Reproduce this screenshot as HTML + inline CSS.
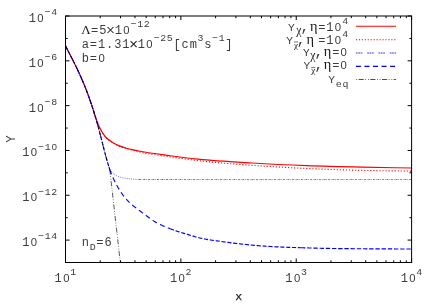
<!DOCTYPE html>
<html><head><meta charset="utf-8"><title>plot</title>
<style>
html,body{margin:0;padding:0;background:#fff;}
body{width:436px;height:305px;overflow:hidden;position:relative;font-family:"Liberation Mono",monospace;}
</style></head><body>
<svg width="436" height="305" viewBox="0 0 436 305" style="position:absolute;left:0;top:0;will-change:transform">
<rect x="0" y="0" width="436" height="305" fill="#fff"/>
<path d="M65.50,262.50 V258.50 M65.50,16.00 V20.00 M100.23,262.50 V260.30 M100.23,16.00 V18.20 M120.54,262.50 V260.30 M120.54,16.00 V18.20 M134.96,262.50 V260.30 M134.96,16.00 V18.20 M146.14,262.50 V260.30 M146.14,16.00 V18.20 M155.27,262.50 V260.30 M155.27,16.00 V18.20 M163.00,262.50 V260.30 M163.00,16.00 V18.20 M169.69,262.50 V260.30 M169.69,16.00 V18.20 M175.59,262.50 V260.30 M175.59,16.00 V18.20 M180.87,262.50 V258.50 M180.87,16.00 V20.00 M215.60,262.50 V260.30 M215.60,16.00 V18.20 M235.91,262.50 V260.30 M235.91,16.00 V18.20 M250.32,262.50 V260.30 M250.32,16.00 V18.20 M261.50,262.50 V260.30 M261.50,16.00 V18.20 M270.64,262.50 V260.30 M270.64,16.00 V18.20 M278.36,262.50 V260.30 M278.36,16.00 V18.20 M285.05,262.50 V260.30 M285.05,16.00 V18.20 M290.95,262.50 V260.30 M290.95,16.00 V18.20 M296.23,262.50 V258.50 M296.23,16.00 V20.00 M330.96,262.50 V260.30 M330.96,16.00 V18.20 M351.28,262.50 V260.30 M351.28,16.00 V18.20 M365.69,262.50 V260.30 M365.69,16.00 V18.20 M376.87,262.50 V260.30 M376.87,16.00 V18.20 M386.01,262.50 V260.30 M386.01,16.00 V18.20 M393.73,262.50 V260.30 M393.73,16.00 V18.20 M400.42,262.50 V260.30 M400.42,16.00 V18.20 M406.32,262.50 V260.30 M406.32,16.00 V18.20 M411.60,262.50 V258.50 M411.60,16.00 V20.00 M65.50,16.00 H69.50 M411.60,16.00 H407.60 M65.50,38.41 H67.70 M411.60,38.41 H409.40 M65.50,60.82 H69.50 M411.60,60.82 H407.60 M65.50,83.23 H67.70 M411.60,83.23 H409.40 M65.50,105.64 H69.50 M411.60,105.64 H407.60 M65.50,128.05 H67.70 M411.60,128.05 H409.40 M65.50,150.45 H69.50 M411.60,150.45 H407.60 M65.50,172.86 H67.70 M411.60,172.86 H409.40 M65.50,195.27 H69.50 M411.60,195.27 H407.60 M65.50,217.68 H67.70 M411.60,217.68 H409.40 M65.50,240.09 H69.50 M411.60,240.09 H407.60 M65.50,262.50 H67.70 M411.60,262.50 H409.40" stroke="#000" stroke-width="1" fill="none"/>
<g fill="none" stroke-linejoin="round">
<path d="M65.59,46.00 C66.61,48.00 67.63,50.00 68.65,52.00 C69.68,54.00 70.71,56.00 71.73,58.00 C72.74,60.00 73.76,61.99 74.76,64.00 C75.75,65.99 76.73,67.99 77.68,70.00 C78.62,71.99 79.54,73.99 80.44,76.00 C81.33,77.99 82.22,79.99 83.06,82.00 C83.90,83.99 84.71,85.99 85.50,88.00 C86.29,89.99 87.04,91.99 87.78,94.00 C88.52,95.99 89.23,97.99 89.93,100.00 C90.63,101.99 91.31,103.99 91.97,106.00 C92.63,107.99 93.28,109.99 93.89,112.00 C94.20,113.00 94.48,114.01 94.80,115.00 C95.38,116.82 96.03,118.61 96.70,120.40 C97.28,121.94 97.86,123.48 98.50,125.00 C99.01,126.21 99.51,127.43 100.10,128.60 C101.59,131.59 103.34,134.59 105.60,137.00 C107.57,139.10 110.04,140.85 112.50,142.40 C114.67,143.76 117.02,144.91 119.40,145.90 C121.63,146.83 123.97,147.52 126.30,148.20 C128.54,148.85 130.82,149.38 133.10,149.90 C135.39,150.42 137.70,150.86 140.00,151.30 C149.92,153.21 159.98,154.36 170.00,155.70 C179.32,156.94 188.65,158.12 198.00,159.10 C215.94,160.98 233.99,161.92 252.00,163.00 C270.32,164.10 288.66,164.92 307.00,165.60 C325.33,166.28 343.66,166.69 362.00,167.10 C378.50,167.47 395.00,167.70 411.50,168.00" stroke="#f00" stroke-width="1.15"/>
<path d="M65.59,46.00 C66.61,48.00 67.63,50.00 68.65,52.00 C69.68,54.00 70.71,56.00 71.73,58.00 C72.74,60.00 73.76,61.99 74.76,64.00 C75.75,65.99 76.73,67.99 77.68,70.00 C78.62,71.99 79.54,73.99 80.44,76.00 C81.33,77.99 82.22,79.99 83.06,82.00 C83.90,83.99 84.71,85.99 85.50,88.00 C86.29,89.99 87.04,91.99 87.78,94.00 C88.52,95.99 89.23,97.99 89.93,100.00 C90.63,101.99 91.31,103.99 91.97,106.00 C92.63,107.99 93.28,109.99 93.89,112.00 C94.20,113.00 94.48,114.01 94.80,115.00 C95.38,116.82 96.03,118.61 96.70,120.40 C97.28,121.94 97.86,123.48 98.50,125.00 C99.01,126.21 99.52,127.43 100.10,128.60 C101.60,131.61 103.34,134.66 105.60,137.10 C107.57,139.23 110.04,141.02 112.50,142.60 C114.67,144.00 117.02,145.18 119.40,146.20 C121.63,147.16 123.97,147.89 126.30,148.60 C128.54,149.28 130.82,149.84 133.10,150.40 C135.39,150.97 137.69,151.50 140.00,152.00 C149.89,154.16 159.98,155.32 170.00,156.80 C179.32,158.17 188.65,159.49 198.00,160.60 C215.94,162.73 233.98,163.99 252.00,165.30 C270.31,166.63 288.66,167.65 307.00,168.50 C325.32,169.35 343.66,169.96 362.00,170.40 C378.50,170.79 395.00,170.87 411.50,171.10" stroke="#f00" stroke-width="1.1" stroke-dasharray="1.15 1.9"/>
<path d="M109.77,169.50 L110.62,170.59 L111.60,171.60 L112.35,172.36 L113.12,173.12 L113.92,173.84 L114.75,174.52 L115.61,175.15 L116.50,175.70 L117.51,176.20 L118.56,176.61 L119.65,176.96 L120.77,177.26 L121.89,177.54 L123.00,177.80 L124.01,178.03 L125.02,178.22 L126.05,178.39 L127.07,178.54 L128.10,178.67 L129.14,178.79 L130.17,178.90 L131.20,179.00 L132.30,179.10 L133.39,179.18 L134.49,179.24 L135.59,179.29 L136.70,179.34 L137.80,179.38 L138.90,179.41" stroke="#00f" stroke-width="0.85" stroke-dasharray="1 1.2" opacity="0.7"/>
<path d="M138.90,179.41 L140.00,179.45 L141.00,179.48 L142.00,179.51 L143.00,179.53 L144.00,179.55 L145.00,179.56 L146.00,179.56 L147.00,179.57 L148.00,179.57 L149.00,179.56 L150.00,179.56 L151.00,179.55 L152.00,179.55 L153.00,179.54 L154.00,179.53 L155.00,179.52 L156.00,179.51 L157.00,179.51 L158.00,179.50 L159.00,179.50 L160.00,179.50 L161.00,179.50 L162.00,179.50 L163.01,179.51 L164.01,179.51 L165.01,179.51 L166.01,179.51 L167.01,179.52 L168.02,179.52 L169.02,179.52 L170.02,179.52 L171.02,179.52 L172.02,179.53 L173.03,179.53 L174.03,179.53 L175.03,179.53 L176.03,179.53 L177.03,179.53 L178.04,179.54 L179.04,179.54 L180.04,179.54 L181.04,179.54 L182.04,179.54 L183.05,179.54 L184.05,179.55 L185.05,179.55 L186.05,179.55 L187.05,179.55 L188.06,179.55 L189.06,179.55 L190.06,179.55 L191.06,179.56 L192.06,179.56 L193.07,179.56 L194.07,179.56 L195.07,179.56 L196.07,179.56 L197.07,179.56 L198.08,179.56 L199.08,179.56 L200.08,179.57 L201.08,179.57 L202.08,179.57 L203.09,179.57 L204.09,179.57 L205.09,179.57 L206.09,179.57 L207.09,179.57 L208.10,179.57 L209.10,179.57 L210.10,179.57 L211.10,179.58 L212.10,179.58 L213.11,179.58 L214.11,179.58 L215.11,179.58 L216.11,179.58 L217.11,179.58 L218.12,179.58 L219.12,179.58 L220.12,179.58 L221.12,179.58 L222.12,179.58 L223.13,179.58 L224.13,179.58 L225.13,179.58 L226.13,179.58 L227.13,179.58 L228.14,179.58 L229.14,179.58 L230.14,179.58 L231.14,179.58 L232.14,179.58 L233.15,179.59 L234.15,179.59 L235.15,179.59 L236.15,179.59 L237.15,179.59 L238.16,179.59 L239.16,179.59 L240.16,179.59 L241.16,179.59 L242.16,179.59 L243.17,179.59 L244.17,179.59 L245.17,179.59 L246.17,179.59 L247.17,179.59 L248.18,179.59 L249.18,179.59 L250.18,179.59 L251.18,179.59 L252.18,179.59 L253.19,179.59 L254.19,179.59 L255.19,179.59 L256.19,179.58 L257.19,179.58 L258.20,179.58 L259.20,179.58 L260.20,179.58 L261.20,179.58 L262.20,179.58 L263.21,179.58 L264.21,179.58 L265.21,179.58 L266.21,179.58 L267.21,179.58 L268.22,179.58 L269.22,179.58 L270.22,179.58 L271.22,179.58 L272.22,179.58 L273.23,179.58 L274.23,179.58 L275.23,179.58 L276.23,179.58 L277.23,179.58 L278.23,179.58 L279.24,179.58 L280.24,179.58 L281.24,179.58 L282.24,179.57 L283.24,179.57 L284.25,179.57 L285.25,179.57 L286.25,179.57 L287.25,179.57 L288.25,179.57 L289.26,179.57 L290.26,179.57 L291.26,179.57 L292.26,179.57 L293.26,179.57 L294.27,179.57 L295.27,179.57 L296.27,179.57 L297.27,179.57 L298.27,179.56 L299.28,179.56 L300.28,179.56 L301.28,179.56 L302.28,179.56 L303.28,179.56 L304.29,179.56 L305.29,179.56 L306.29,179.56 L307.29,179.56 L308.29,179.56 L309.30,179.56 L310.30,179.56 L311.30,179.56 L312.30,179.55 L313.30,179.55 L314.31,179.55 L315.31,179.55 L316.31,179.55 L317.31,179.55 L318.31,179.55 L319.32,179.55 L320.32,179.55 L321.32,179.55 L322.32,179.55 L323.32,179.55 L324.33,179.55 L325.33,179.54 L326.33,179.54 L327.33,179.54 L328.33,179.54 L329.34,179.54 L330.34,179.54 L331.34,179.54 L332.34,179.54 L333.34,179.54 L334.35,179.54 L335.35,179.54 L336.35,179.54 L337.35,179.54 L338.35,179.53 L339.36,179.53 L340.36,179.53 L341.36,179.53 L342.36,179.53 L343.36,179.53 L344.37,179.53 L345.37,179.53 L346.37,179.53 L347.37,179.53 L348.37,179.53 L349.38,179.53 L350.38,179.53 L351.38,179.53 L352.38,179.52 L353.38,179.52 L354.39,179.52 L355.39,179.52 L356.39,179.52 L357.39,179.52 L358.39,179.52 L359.40,179.52 L360.40,179.52 L361.40,179.52 L362.40,179.52 L363.40,179.52 L364.41,179.52 L365.41,179.52 L366.41,179.52 L367.41,179.51 L368.41,179.51 L369.42,179.51 L370.42,179.51 L371.42,179.51 L372.42,179.51 L373.42,179.51 L374.43,179.51 L375.43,179.51 L376.43,179.51 L377.43,179.51 L378.43,179.51 L379.44,179.51 L380.44,179.51 L381.44,179.51 L382.44,179.51 L383.44,179.51 L384.45,179.51 L385.45,179.51 L386.45,179.51 L387.45,179.50 L388.45,179.50 L389.46,179.50 L390.46,179.50 L391.46,179.50 L392.46,179.50 L393.46,179.50 L394.47,179.50 L395.47,179.50 L396.47,179.50 L397.47,179.50 L398.47,179.50 L399.48,179.50 L400.48,179.50 L401.48,179.50 L402.48,179.50 L403.48,179.50 L404.49,179.50 L405.49,179.50 L406.49,179.50 L407.49,179.50 L408.49,179.50 L409.50,179.50 L410.50,179.50 L411.50,179.50" stroke="#00f" stroke-width="0.85" stroke-dasharray="2.0 1.0 0.6 0.9" opacity="0.75"/>
<path d="M65.59,46.00 L66.10,47.00 L66.61,48.00 L67.12,49.00 L67.63,50.00 L68.14,51.00 L68.65,52.00 L69.17,53.00 L69.68,54.00 L70.19,55.00 L70.71,56.00 L71.22,57.00 L71.73,58.00 L72.24,59.00 L72.74,60.00 L73.25,61.00 L73.76,62.00 L74.26,63.00 L74.76,64.00 L75.25,65.00 L75.74,65.99 L76.23,66.99 L76.72,67.99 L77.20,69.00 L77.68,70.00 L78.15,71.00 L78.61,71.99 L79.08,72.99 L79.53,73.99 L79.99,75.00 L80.44,76.00 L80.89,77.00 L81.33,77.99 L81.77,78.99 L82.21,79.99 L82.64,81.00 L83.06,82.00 L83.48,83.00 L83.89,83.99 L84.30,84.99 L84.71,85.99 L85.11,87.00 L85.50,88.00 L85.89,89.00 L86.28,89.99 L86.66,90.99 L87.04,91.99 L87.41,93.00 L87.78,94.00 L88.15,95.00 L88.51,96.00 L88.87,97.00 L89.23,98.00 L89.58,99.00 L89.93,100.00 L90.28,101.00 L90.62,102.00 L90.96,103.00 L91.30,104.00 L91.64,105.00 L91.97,106.00 L92.30,107.00 L92.62,108.00 L92.94,109.00 L93.26,110.00 L93.58,111.00 L93.89,112.00 L94.20,113.00 L94.51,114.00 L94.81,115.00 L95.12,116.00 L95.41,117.00 L95.71,118.00 L96.00,119.00 L96.29,120.00 L96.58,121.00 L96.86,122.00 L97.15,123.00 L97.43,124.00 L97.70,125.00 L97.98,126.00 L98.25,127.00 L98.52,128.00 L98.79,129.00 L99.05,130.00 L99.32,131.00 L99.58,132.00 L99.84,133.00 L100.10,134.00 L100.36,135.00 L100.62,136.00 L100.87,137.00 L101.13,138.00 L101.38,139.00 L101.63,140.00 L101.89,141.00 L102.14,142.00 L102.40,143.00 L102.65,144.00 L102.90,145.00 L103.15,146.00 L103.41,147.00 L103.67,148.00 L103.92,149.00 L104.18,150.00 L104.44,151.00 L104.70,152.00 L104.96,153.00 L105.23,154.00 L105.50,155.00 L105.77,156.00 L106.04,157.00 L106.31,158.00 L106.59,159.00 L106.87,160.00 L107.16,161.00 L107.45,162.00 L107.74,163.01 L108.04,164.01 L108.34,165.00 L108.65,166.00 L109.01,167.17 L109.38,168.34 L109.77,169.50" stroke="#00f" stroke-width="1.15" stroke-dasharray="3.8 1.6"/>
<path d="M109.77,169.50 L110.12,170.52 L110.49,171.53 L110.87,172.54 L111.27,173.54 L111.67,174.54 L112.09,175.53 L112.52,176.52 L112.96,177.51 L113.41,178.49 L113.86,179.46 L114.33,180.43 L114.80,181.40 L115.25,182.31 L115.72,183.22 L116.18,184.13 L116.66,185.04 L117.14,185.94 L117.64,186.83 L118.14,187.72 L118.65,188.61 L119.18,189.49 L119.71,190.35 L120.26,191.21 L120.82,192.06 L121.40,192.90 L122.01,193.77 L122.64,194.63 L123.28,195.48 L123.93,196.33 L124.59,197.17 L125.27,198.00 L125.96,198.82 L126.66,199.63 L127.37,200.42 L128.10,201.19 L128.84,201.96 L129.60,202.70 L130.37,203.42 L131.15,204.11 L131.96,204.79 L132.77,205.45 L133.60,206.10 L134.44,206.75 L135.28,207.38 L136.12,208.02 L136.96,208.66 L137.80,209.30 L138.60,209.92 L139.41,210.54 L140.22,211.16 L141.03,211.77 L141.85,212.38 L142.66,212.99 L143.48,213.60 L144.30,214.20 L145.11,214.79 L145.91,215.39 L146.72,215.99 L147.52,216.58 L148.33,217.18 L149.14,217.77 L149.96,218.36 L150.77,218.94 L151.59,219.51 L152.42,220.08 L153.25,220.63 L154.09,221.17 L154.94,221.69 L155.80,222.20 L156.70,222.71 L157.62,223.21 L158.54,223.70 L159.47,224.17 L160.41,224.63 L161.35,225.08 L162.31,225.51 L163.26,225.94 L164.22,226.35 L165.19,226.76 L166.16,227.16 L167.13,227.55 L168.11,227.94 L169.09,228.32 L170.06,228.69" stroke="#00f" stroke-width="1.15" stroke-dasharray="5 3.5"/>
<path d="M170.06,228.69 L171.04,229.07 L172.02,229.43 L173.00,229.80 L173.99,230.16 L174.98,230.52 L175.98,230.86 L176.98,231.20 L177.99,231.52 L178.99,231.85 L180.00,232.16 L181.01,232.47 L182.02,232.78 L183.04,233.09 L184.05,233.39 L185.06,233.69 L186.08,233.99 L187.09,234.30 L188.10,234.60 L189.09,234.90 L190.07,235.20 L191.06,235.50 L192.05,235.80 L193.04,236.10 L194.03,236.40 L195.02,236.68 L196.01,236.97 L197.00,237.24 L198.00,237.50 L198.98,237.75 L199.97,237.98 L200.95,238.21 L201.94,238.43 L202.93,238.64 L203.92,238.84 L204.92,239.03 L205.92,239.22 L206.91,239.39 L207.91,239.57 L208.91,239.73 L209.92,239.89 L210.92,240.05 L211.92,240.20 L212.93,240.35 L213.93,240.49 L214.94,240.63 L215.95,240.77 L216.95,240.91 L217.96,241.04 L218.97,241.18 L219.97,241.31 L220.98,241.45 L221.99,241.58 L222.99,241.72 L224.00,241.86 L225.00,242.00 L226.00,242.14 L226.99,242.28 L227.99,242.41 L228.99,242.55 L229.99,242.68 L230.98,242.81 L231.98,242.93 L232.98,243.06 L233.98,243.18 L234.98,243.31 L235.98,243.43 L236.98,243.55 L237.98,243.66 L238.98,243.78 L239.98,243.89 L240.98,244.00 L241.98,244.11 L242.98,244.22 L243.98,244.33 L244.98,244.43 L245.98,244.53 L246.99,244.64 L247.99,244.74 L248.99,244.84 L249.99,244.93 L250.99,245.03 L251.99,245.12 L253.00,245.22 L254.00,245.31 L255.00,245.40 L256.00,245.49 L256.99,245.57 L257.99,245.66 L258.99,245.74 L259.99,245.82 L260.98,245.89 L261.98,245.97 L262.98,246.04 L263.98,246.11 L264.98,246.18 L265.98,246.25 L266.97,246.31 L267.97,246.37 L268.97,246.43 L269.97,246.49 L270.97,246.55 L271.97,246.61 L272.97,246.66 L273.97,246.71 L274.97,246.76 L275.97,246.81 L276.97,246.86 L277.97,246.91 L278.97,246.95 L279.97,247.00 L280.97,247.04 L281.97,247.08 L282.97,247.12 L283.97,247.16 L284.98,247.20 L285.98,247.24 L286.98,247.28 L287.98,247.31 L288.98,247.35 L289.98,247.38 L290.98,247.42 L291.98,247.45 L292.98,247.48 L293.98,247.51 L294.99,247.55 L295.99,247.58 L296.99,247.61 L297.99,247.64 L298.99,247.67 L299.99,247.70 L300.99,247.73" stroke="#00f" stroke-width="1.15" stroke-dasharray="4.2 1.7"/>
<path d="M300.99,247.73 L301.99,247.76 L302.99,247.79 L304.00,247.82 L305.00,247.85 L306.00,247.88 L307.00,247.91 L308.00,247.94 L309.00,247.97 L310.00,248.00 L311.00,248.03 L312.00,248.06 L313.00,248.09 L314.00,248.12 L315.00,248.14 L316.00,248.17 L317.00,248.19 L318.00,248.22 L319.00,248.24 L320.00,248.26 L321.00,248.28 L322.00,248.31 L323.00,248.33 L324.00,248.35 L325.00,248.36 L326.00,248.38 L327.00,248.40 L328.00,248.42 L329.00,248.43 L330.00,248.45 L331.00,248.46 L332.00,248.48 L333.00,248.49 L334.00,248.51 L335.00,248.52 L336.00,248.53 L337.00,248.54 L338.00,248.56 L339.00,248.57 L340.00,248.58 L341.00,248.59 L342.00,248.60 L343.00,248.61 L344.00,248.62 L345.00,248.63 L346.00,248.64 L347.00,248.65 L348.00,248.66 L349.00,248.67 L350.00,248.67 L351.00,248.68 L352.00,248.69 L353.00,248.70 L354.00,248.71 L355.00,248.72 L356.00,248.72 L357.00,248.73 L358.00,248.74 L359.00,248.75 L360.00,248.76 L361.00,248.77 L362.00,248.77 L363.00,248.78 L364.00,248.79 L365.00,248.80 L366.01,248.81 L367.02,248.82 L368.03,248.83 L369.04,248.83 L370.05,248.84 L371.07,248.85 L372.08,248.85 L373.09,248.86 L374.10,248.87 L375.11,248.87 L376.12,248.88 L377.13,248.88 L378.14,248.89 L379.15,248.89 L380.16,248.90 L381.17,248.90 L382.18,248.91 L383.20,248.91 L384.21,248.91 L385.22,248.92 L386.23,248.92 L387.24,248.92 L388.25,248.93 L389.26,248.93 L390.27,248.93 L391.28,248.94 L392.29,248.94 L393.30,248.94 L394.32,248.94 L395.33,248.95 L396.34,248.95 L397.35,248.95 L398.36,248.96 L399.37,248.96 L400.38,248.96 L401.39,248.96 L402.40,248.97 L403.41,248.97 L404.42,248.97 L405.43,248.98 L406.45,248.98 L407.46,248.98 L408.47,248.99 L409.48,248.99 L410.49,249.00 L411.50,249.00" stroke="#00f" stroke-width="1.15" stroke-dasharray="4.4 1.8"/>
<path d="M65.59,46.00 C66.61,48.00 67.63,50.00 68.65,52.00 C69.68,54.00 70.71,56.00 71.73,58.00 C72.74,60.00 73.76,61.99 74.76,64.00 C75.75,65.99 76.73,67.99 77.68,70.00 C78.62,71.99 79.54,73.99 80.44,76.00 C81.33,77.99 82.22,79.99 83.06,82.00 C83.90,83.99 84.71,85.99 85.50,88.00 C86.29,89.99 87.04,91.99 87.78,94.00 C88.52,95.99 89.23,97.99 89.93,100.00 C90.63,101.99 91.31,103.99 91.97,106.00 C92.63,107.99 93.27,109.99 93.89,112.00 C94.52,113.99 95.12,116.00 95.71,118.00 C96.30,120.00 96.87,122.00 97.43,124.00 C97.98,126.00 98.52,128.00 99.05,130.00 C99.58,132.00 100.10,134.00 100.62,136.00 C101.13,138.00 101.63,140.00 102.14,142.00 C102.65,144.00 103.15,146.00 103.67,148.00 C104.18,150.00 104.69,152.00 105.23,154.00 C105.76,156.00 106.30,158.01 106.87,160.00 C107.44,162.01 108.03,164.01 108.65,166.00 C109.01,167.17 109.40,168.33 109.77,169.50" stroke="#000" stroke-width="0.95" stroke-dasharray="5.1 1.6 0.8 1.9 0.8 1.5" opacity="0.85"/>
<path d="M109.77,169.50 L120.30,262.50" stroke="#000" stroke-width="0.65" stroke-dasharray="5.1 1.6 0.8 1.9 0.8 1.5"/>
</g>
<rect x="65.50" y="16.00" width="346.10" height="246.50" fill="none" stroke="#000" stroke-width="1"/>
<g fill="none">
<path d="M355.9,26.2 H396.0" stroke="#f00" stroke-width="1.15"/>
<path d="M355.9,39.7 H396.0" stroke="#f00" stroke-width="1.1" stroke-dasharray="1.2 1.75"/>
<path d="M355.9,53.0 H396.0" stroke="#00f" stroke-width="1.3" stroke-dasharray="1.7 0.65 1.7 0.65 1.7 4.9" opacity="0.55"/>
<path d="M355.9,66.4 H396.0" stroke="#00f" stroke-width="1.4" stroke-dasharray="5 3.55"/>
<path d="M355.9,79.5 H396.0" stroke="#000" stroke-width="0.7" stroke-dasharray="5.1 1.6 0.8 1.9 0.8 1.5" stroke-dashoffset="9"/>
</g>
<g fill="#3c3c3c" font-family="'Liberation Mono', monospace" font-size="12.0">
<text x="32.35" y="21.90" font-size="12.0" text-anchor="middle">1</text>
<text x="40.45" y="21.90" font-family="'Liberation Sans', sans-serif" font-size="11.3" text-anchor="middle">0</text>
<text x="47.75" y="15.40" font-size="9.9" text-anchor="middle">&#8722;</text>
<text x="54.25" y="15.40" font-size="9.9" text-anchor="middle">4</text>
<text x="32.35" y="66.72" font-size="12.0" text-anchor="middle">1</text>
<text x="40.45" y="66.72" font-family="'Liberation Sans', sans-serif" font-size="11.3" text-anchor="middle">0</text>
<text x="47.75" y="60.22" font-size="9.9" text-anchor="middle">&#8722;</text>
<text x="54.25" y="60.22" font-size="9.9" text-anchor="middle">6</text>
<text x="32.35" y="111.54" font-size="12.0" text-anchor="middle">1</text>
<text x="40.45" y="111.54" font-family="'Liberation Sans', sans-serif" font-size="11.3" text-anchor="middle">0</text>
<text x="47.75" y="105.04" font-size="9.9" text-anchor="middle">&#8722;</text>
<text x="54.25" y="105.04" font-size="9.9" text-anchor="middle">8</text>
<text x="25.85" y="156.35" font-size="12.0" text-anchor="middle">1</text>
<text x="33.95" y="156.35" font-family="'Liberation Sans', sans-serif" font-size="11.3" text-anchor="middle">0</text>
<text x="41.25" y="149.85" font-size="9.9" text-anchor="middle">&#8722;</text>
<text x="47.75" y="149.85" font-size="9.9" text-anchor="middle">1</text>
<text x="54.25" y="149.85" font-family="'Liberation Sans', sans-serif" font-size="9.3" text-anchor="middle">0</text>
<text x="25.85" y="201.17" font-size="12.0" text-anchor="middle">1</text>
<text x="33.95" y="201.17" font-family="'Liberation Sans', sans-serif" font-size="11.3" text-anchor="middle">0</text>
<text x="41.25" y="194.67" font-size="9.9" text-anchor="middle">&#8722;</text>
<text x="47.75" y="194.67" font-size="9.9" text-anchor="middle">1</text>
<text x="54.25" y="194.67" font-size="9.9" text-anchor="middle">2</text>
<text x="25.85" y="245.99" font-size="12.0" text-anchor="middle">1</text>
<text x="33.95" y="245.99" font-family="'Liberation Sans', sans-serif" font-size="11.3" text-anchor="middle">0</text>
<text x="41.25" y="239.49" font-size="9.9" text-anchor="middle">&#8722;</text>
<text x="47.75" y="239.49" font-size="9.9" text-anchor="middle">1</text>
<text x="54.25" y="239.49" font-size="9.9" text-anchor="middle">4</text>
<text x="58.20" y="282.00" font-size="12.0" text-anchor="middle">1</text>
<text x="66.30" y="282.00" font-family="'Liberation Sans', sans-serif" font-size="11.3" text-anchor="middle">0</text>
<text x="73.20" y="274.70" font-size="9.9" text-anchor="middle">1</text>
<text x="173.57" y="282.00" font-size="12.0" text-anchor="middle">1</text>
<text x="181.67" y="282.00" font-family="'Liberation Sans', sans-serif" font-size="11.3" text-anchor="middle">0</text>
<text x="188.57" y="274.70" font-size="9.9" text-anchor="middle">2</text>
<text x="288.93" y="282.00" font-size="12.0" text-anchor="middle">1</text>
<text x="297.03" y="282.00" font-family="'Liberation Sans', sans-serif" font-size="11.3" text-anchor="middle">0</text>
<text x="303.93" y="274.70" font-size="9.9" text-anchor="middle">3</text>
<text x="404.30" y="282.00" font-size="12.0" text-anchor="middle">1</text>
<text x="412.40" y="282.00" font-family="'Liberation Sans', sans-serif" font-size="11.3" text-anchor="middle">0</text>
<text x="419.30" y="274.70" font-size="9.9" text-anchor="middle">4</text>
<text x="238.7" y="299.6" font-size="11.5" text-anchor="middle" fill="#222" stroke="#222" stroke-width="0.25">x</text>
<text transform="translate(15.2,139) rotate(-90)" text-anchor="middle" font-size="12.5">Y</text>
<text x="86.00" y="33.60" font-family="'Liberation Serif', serif" font-size="13.0" text-anchor="middle" fill="#1a1a1a" >&#923;</text>
<text x="94.65" y="33.60" font-size="12.0" text-anchor="middle">=</text>
<text x="102.75" y="33.60" font-size="12.0" text-anchor="middle">5</text>
<path d="M107.50,27.00 l6,6 M107.50,33.00 l6,-6" stroke="#222" stroke-width="1.05" fill="none"/>
<text x="118.25" y="33.60" font-size="12.0" text-anchor="middle">1</text>
<text x="126.35" y="33.60" font-family="'Liberation Sans', sans-serif" font-size="11.3" text-anchor="middle">0</text>
<text x="133.65" y="27.00" font-size="9.9" text-anchor="middle">&#8722;</text>
<text x="140.15" y="27.00" font-size="9.9" text-anchor="middle">1</text>
<text x="146.65" y="27.00" font-size="9.9" text-anchor="middle">2</text>
<text x="85.35" y="47.80" font-size="12.0" text-anchor="middle">a</text>
<text x="93.45" y="47.80" font-size="12.0" text-anchor="middle">=</text>
<text x="101.55" y="47.80" font-size="12.0" text-anchor="middle">1</text>
<text x="109.65" y="47.80" font-size="12.0" text-anchor="middle">.</text>
<text x="117.75" y="47.80" font-size="12.0" text-anchor="middle">3</text>
<text x="125.85" y="47.80" font-size="12.0" text-anchor="middle">1</text>
<path d="M130.60,41.20 l6,6 M130.60,47.20 l6,-6" stroke="#222" stroke-width="1.05" fill="none"/>
<text x="141.35" y="47.80" font-size="12.0" text-anchor="middle">1</text>
<text x="149.45" y="47.80" font-family="'Liberation Sans', sans-serif" font-size="11.3" text-anchor="middle">0</text>
<text x="156.75" y="41.20" font-size="9.9" text-anchor="middle">&#8722;</text>
<text x="163.25" y="41.20" font-size="9.9" text-anchor="middle">2</text>
<text x="169.75" y="41.20" font-size="9.9" text-anchor="middle">5</text>
<text x="177.05" y="47.80" font-size="12.0" text-anchor="middle">[</text>
<text x="185.15" y="47.80" font-size="12.0" text-anchor="middle">c</text>
<text x="193.25" y="47.80" font-size="12.0" text-anchor="middle">m</text>
<text x="200.55" y="41.20" font-size="9.9" text-anchor="middle">3</text>
<text x="207.85" y="47.80" font-size="12.0" text-anchor="middle">s</text>
<text x="215.15" y="41.20" font-size="9.9" text-anchor="middle">&#8722;</text>
<text x="221.65" y="41.20" font-size="9.9" text-anchor="middle">1</text>
<text x="228.95" y="47.80" font-size="12.0" text-anchor="middle">]</text>
<text x="85.35" y="61.90" font-size="12.0" text-anchor="middle">b</text>
<text x="93.45" y="61.90" font-size="12.0" text-anchor="middle">=</text>
<text x="101.55" y="61.90" font-family="'Liberation Sans', sans-serif" font-size="11.3" text-anchor="middle">0</text>
<text x="85.35" y="245.60" font-size="12.0" text-anchor="middle">n</text>
<text x="92.65" y="249.50" font-size="9.9" text-anchor="middle">D</text>
<text x="99.95" y="245.60" font-size="12.0" text-anchor="middle">=</text>
<text x="108.05" y="245.60" font-size="12.0" text-anchor="middle">6</text>
<text x="291.35" y="30.80" font-size="11.2" text-anchor="middle">Y</text>
<text x="298.85" y="34.20" font-family="'Liberation Serif', serif" font-size="11.8" text-anchor="middle" fill="#1a1a1a" >&#967;</text>
<text x="304.90" y="30.80" font-size="14.4" text-anchor="middle">,</text>
<text x="313.75" y="30.80" font-family="'Liberation Serif', serif" font-size="14.4" text-anchor="middle" fill="#1a1a1a" >&#951;</text>
<text x="321.80" y="30.80" font-size="12.0" text-anchor="middle">=</text>
<text x="329.80" y="30.80" font-size="12.0" text-anchor="middle">1</text>
<text x="338.00" y="30.80" font-family="'Liberation Sans', sans-serif" font-size="11.3" text-anchor="middle">0</text>
<text x="345.10" y="23.90" font-size="9.9" text-anchor="middle">4</text>
<text x="289.60" y="43.60" font-size="11.2" text-anchor="middle">Y</text>
<text x="296.00" y="47.60" font-family="'Liberation Serif', serif" font-size="9.0" text-anchor="middle" fill="#1a1a1a" >&#967;</text>
<path d="M293.90,42.00 h4.2" stroke="#3c3c3c" stroke-width="0.7" fill="none"/>
<text x="301.00" y="43.60" font-size="14.4" text-anchor="middle">,</text>
<text x="310.15" y="43.60" font-family="'Liberation Serif', serif" font-size="14.4" text-anchor="middle" fill="#1a1a1a" >&#951;</text>
<text x="321.80" y="43.60" font-size="12.0" text-anchor="middle">=</text>
<text x="329.80" y="43.60" font-size="12.0" text-anchor="middle">1</text>
<text x="338.00" y="43.60" font-family="'Liberation Sans', sans-serif" font-size="11.3" text-anchor="middle">0</text>
<text x="345.10" y="36.70" font-size="9.9" text-anchor="middle">4</text>
<text x="306.45" y="55.80" font-size="11.2" text-anchor="middle">Y</text>
<text x="312.90" y="59.20" font-family="'Liberation Serif', serif" font-size="11.8" text-anchor="middle" fill="#1a1a1a" >&#967;</text>
<text x="318.80" y="55.80" font-size="14.4" text-anchor="middle">,</text>
<text x="327.55" y="55.80" font-family="'Liberation Serif', serif" font-size="14.4" text-anchor="middle" fill="#1a1a1a" >&#951;</text>
<text x="335.85" y="55.80" font-size="12.0" text-anchor="middle">=</text>
<text x="343.55" y="55.80" font-family="'Liberation Sans', sans-serif" font-size="11.3" text-anchor="middle">0</text>
<text x="306.90" y="69.20" font-size="11.2" text-anchor="middle">Y</text>
<text x="313.20" y="73.20" font-family="'Liberation Serif', serif" font-size="9.0" text-anchor="middle" fill="#1a1a1a" >&#967;</text>
<path d="M311.10,67.60 h4.2" stroke="#3c3c3c" stroke-width="0.7" fill="none"/>
<text x="318.80" y="69.20" font-size="14.4" text-anchor="middle">,</text>
<text x="327.55" y="69.20" font-family="'Liberation Serif', serif" font-size="14.4" text-anchor="middle" fill="#1a1a1a" >&#951;</text>
<text x="335.85" y="69.20" font-size="12.0" text-anchor="middle">=</text>
<text x="343.55" y="69.20" font-family="'Liberation Sans', sans-serif" font-size="11.3" text-anchor="middle">0</text>
<text x="331.50" y="83.00" font-size="11.2" text-anchor="middle">Y</text>
<text x="338.80" y="86.70" font-size="9.9" text-anchor="middle">e</text>
<text x="345.50" y="86.70" font-size="9.9" text-anchor="middle">q</text>
</g>
</svg>
</body></html>
